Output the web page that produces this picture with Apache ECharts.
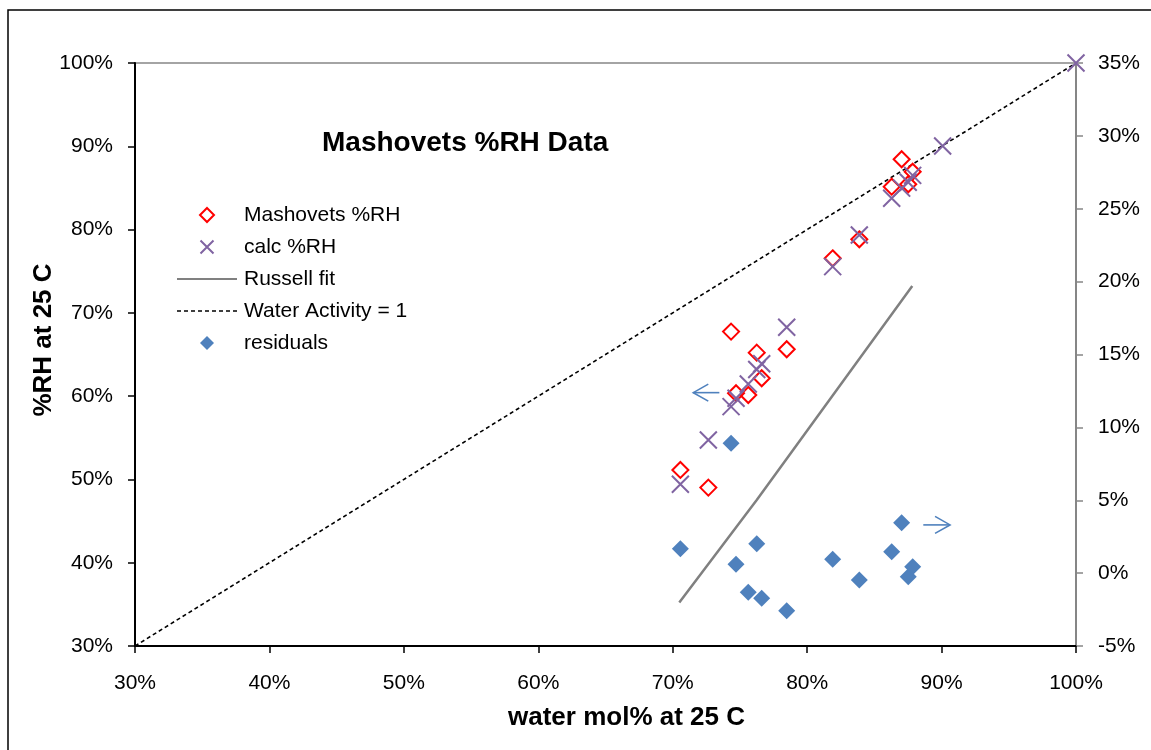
<!DOCTYPE html>
<html><head><meta charset="utf-8">
<script src="https://cdn.jsdelivr.net/npm/echarts@6/dist/echarts.min.js"></script>
<style>html,body{margin:0;padding:0;background:#fff}#c{width:1151px;height:750px}</style>
</head><body><div id="c"></div>
<script>
// ---- data ----
const xTicks = [0.3, 0.4, 0.5, 0.6, 0.7, 0.8, 0.9, 1.0];
const waterMol = [0.7057, 0.7265, 0.7434, 0.7471, 0.7562, 0.7625, 0.7662, 0.7848, 0.8190, 0.8388, 0.8629, 0.8703, 0.8752, 0.8785];
const mashovetsRH = [0.5114, 0.4902, 0.6775, 0.6035, 0.6014, 0.6522, 0.6215, 0.6563, 0.7655, 0.7883, 0.8515, 0.8844, 0.8544, 0.8695];
const calcWater = [0.7057, 0.7265, 0.7434, 0.7471, 0.7562, 0.7625, 0.7662, 0.7848, 0.8190, 0.8388, 0.8629, 0.8703, 0.8752, 0.8785, 0.9008, 1.0];
const calcRH = [0.4942, 0.5474, 0.5874, 0.5974, 0.6146, 0.6320, 0.6388, 0.6827, 0.7555, 0.7935, 0.8376, 0.8498, 0.8569, 0.8651, 0.9004, 1.0];
const residuals = [0.0168, null, 0.0891, 0.0061, -0.0132, 0.0202, -0.0173, -0.0258, 0.0095, -0.0047, 0.0147, 0.0346, -0.0025, 0.0044];
const russellX = [0.7049, 0.7625, 0.8782];
const russellY = [0.3521, 0.4754, 0.7323];
const waterActX = [0.3, 1.0];
const waterActY = [0.3, 1.0];
// annotation arrows: [tailX, tailY, tipX, tipY] on the left axis scale
const arrowLeft = [0.7347, 0.6042, 0.7153, 0.6042];
const arrowRight = [0.8864, 0.4454, 0.9063, 0.4454];

const zip = (a, b) => a.map((v, i) => [v, b[i]]);
const pct = v => Math.round(v * 100) + '%';
const FONT = "'Liberation Sans', Arial, sans-serif";
const BLUE = '#4F81BD', PURPLE = '#8064A2', RED = '#FF0000';

// legend icons with a 60x14 bounding box so nothing is stretched
const ICON_DIAMOND = 'path://M0,7M60,7M30,0L37,7L30,14L23,7Z';
const ICON_X = 'path://M0,7M60,7M23.5,0.5L36.5,13.5M36.5,0.5L23.5,13.5';
const ICON_LINE = 'path://M0,0M60,14M0,7L60,7';

const chart = echarts.init(document.getElementById('c'), null, {renderer: 'canvas'});
const option = {
  animation: false,
  backgroundColor: '#ffffff',
  textStyle: {fontFamily: FONT},
  title: {
    text: 'Mashovets %RH Data', left: 322, top: 129, padding: 0,
    textStyle: {fontFamily: FONT, fontSize: 28, fontWeight: 'bold', color: '#000'}
  },
  legend: {
    orient: 'vertical', left: 176, top: 204, padding: 0,
    itemWidth: 60, itemHeight: 15, itemGap: 10,
    data: [
      {name: 'Mashovets %RH', icon: ICON_DIAMOND, itemStyle: {color: '#fff', borderColor: RED, borderWidth: 2}},
      {name: 'calc %RH', icon: ICON_X, itemStyle: {color: 'rgba(0,0,0,0)', borderColor: PURPLE, borderWidth: 2}},
      {name: 'Russell fit', icon: ICON_LINE, itemStyle: {color: 'rgba(0,0,0,0)', borderColor: '#808080', borderWidth: 2}},
      {name: 'Water Activity = 1', icon: ICON_LINE, itemStyle: {color: 'rgba(0,0,0,0)', borderColor: '#000', borderWidth: 1.5, borderType: [4, 3]}},
      {name: 'residuals', icon: ICON_DIAMOND, itemStyle: {color: BLUE, borderColor: BLUE, borderWidth: 0}}
    ],
    textStyle: {fontFamily: FONT, fontSize: 21, color: '#000', lineHeight: 22, padding: [0, 0, 0, 2]},
    selectedMode: false
  },
  grid: {left: 135, right: 75, top: 63, bottom: 104, show: true, borderColor: '#868686', borderWidth: 1.5, backgroundColor: 'transparent'},
  xAxis: {
    type: 'value', min: xTicks[0], max: xTicks[xTicks.length - 1], interval: 0.1,
    name: 'water mol% at 25 C', nameLocation: 'middle', nameGap: 59,
    nameTextStyle: {fontFamily: FONT, fontSize: 26, fontWeight: 'bold', color: '#000', padding: [0, 0, 0, 42]},
    axisLine: {onZero: false, lineStyle: {color: '#000', width: 2}},
    axisTick: {length: 7, lineStyle: {color: '#000', width: 1.5}},
    axisLabel: {formatter: pct, fontSize: 21, color: '#000', margin: 27, fontFamily: FONT},
    splitLine: {show: false}
  },
  yAxis: [{
    type: 'value', min: 0.3, max: 1.0, interval: 0.1, position: 'left',
    name: '%RH at 25 C', nameLocation: 'middle', nameGap: 78, nameMoveOverlap: false,
    nameTextStyle: {fontFamily: FONT, fontSize: 26, fontWeight: 'bold', color: '#000', padding: [0, 0, 0, 29]},
    axisLine: {show: true, onZero: false, lineStyle: {color: '#000', width: 2}},
    axisTick: {show: true, length: 7, lineStyle: {color: '#000', width: 1.5}},
    axisLabel: {formatter: pct, fontSize: 21, color: '#000', margin: 22, fontFamily: FONT},
    splitLine: {show: false}
  }, {
    type: 'value', min: -0.05, max: 0.35, interval: 0.05, position: 'right',
    axisLine: {show: true, onZero: false, lineStyle: {color: '#868686', width: 2}},
    axisTick: {show: true, length: 7, lineStyle: {color: '#868686', width: 1.5}},
    axisLabel: {formatter: pct, fontSize: 21, color: '#000', margin: 22, fontFamily: FONT},
    splitLine: {show: false}
  }],
  series: [{
    name: 'Water Activity = 1', type: 'line', data: zip(waterActX, waterActY),
    symbol: 'none', lineStyle: {color: '#000', width: 1.6, type: [4, 3]}, itemStyle: {color: '#000'},
    silent: true, z: 2
  }, {
    name: 'Russell fit', type: 'line', data: zip(russellX, russellY),
    symbol: 'none', lineStyle: {color: '#808080', width: 2.5}, itemStyle: {color: '#808080'},
    silent: true, z: 2
  }, {
    name: 'residuals', type: 'scatter', yAxisIndex: 1,
    data: zip(waterMol, residuals).filter(d => d[1] !== null),
    symbol: 'diamond', symbolSize: 17,
    itemStyle: {color: BLUE, borderColor: BLUE, borderWidth: 0, opacity: 1},
    silent: true, z: 3
  }, {
    name: 'Mashovets %RH', type: 'scatter', data: zip(waterMol, mashovetsRH),
    symbol: 'diamond', symbolSize: 16,
    itemStyle: {color: 'rgba(255,255,255,0)', borderColor: RED, borderWidth: 2, opacity: 1},
    silent: true, z: 4
  }, {
    name: 'calc %RH', type: 'scatter', data: zip(calcWater, calcRH),
    symbol: 'path://M0,0L10,10M10,0L0,10', symbolSize: 17,
    itemStyle: {color: 'rgba(0,0,0,0)', borderColor: PURPLE, borderWidth: 2, opacity: 1},
    silent: true, z: 5
  }],
  graphic: [{
    type: 'rect', shape: {x: 8, y: 10, width: 1200, height: 800},
    style: {fill: 'none', stroke: '#000', lineWidth: 1.5}, silent: true
  }]
};
chart.setOption(option);

function arrowGraphic(a) {
  const tail = chart.convertToPixel({xAxisIndex: 0, yAxisIndex: 0}, [a[0], a[1]]);
  const tip = chart.convertToPixel({xAxisIndex: 0, yAxisIndex: 0}, [a[2], a[3]]);
  const dx = tip[0] - tail[0], dy = tip[1] - tail[1];
  const len = Math.hypot(dx, dy), ux = dx / len, uy = dy / len;
  const hl = 15, hw = 8.5;
  const b1 = [tip[0] - ux * hl - uy * hw, tip[1] - uy * hl + ux * hw];
  const b2 = [tip[0] - ux * hl + uy * hw, tip[1] - uy * hl - ux * hw];
  const st = {stroke: BLUE, lineWidth: 1.6, fill: 'none'};
  return [
    {type: 'polyline', shape: {points: [tail, tip]}, style: st, silent: true, z: 10},
    {type: 'polyline', shape: {points: [b1, tip, b2]}, style: st, silent: true, z: 10}
  ];
}
chart.setOption({graphic: option.graphic.concat(arrowGraphic(arrowLeft), arrowGraphic(arrowRight))});
</script>
</body></html>
